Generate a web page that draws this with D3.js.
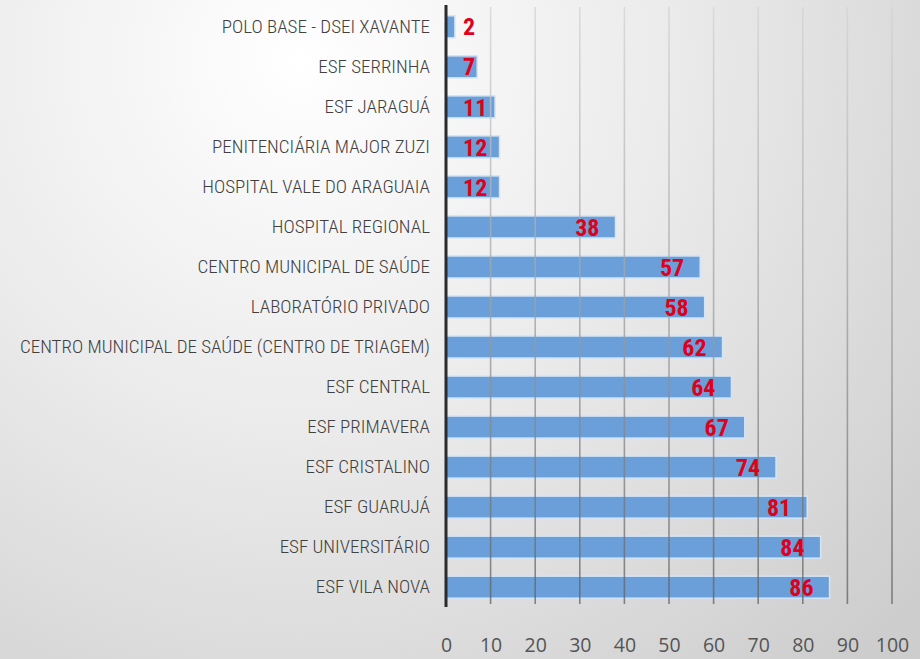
<!DOCTYPE html>
<html>
<head>
<meta charset="utf-8">
<script src="https://cdn.jsdelivr.net/npm/d3@7"></script>
<style>
  html, body { margin: 0; padding: 0; }
  body { width: 920px; height: 659px; overflow: hidden; }
</style>
</head>
<body>
<div id="chart"></div>
<script>
const categories = [
  'POLO BASE - DSEI XAVANTE',
  'ESF SERRINHA',
  'ESF JARAGUÁ',
  'PENITENCIÁRIA MAJOR ZUZI',
  'HOSPITAL VALE DO ARAGUAIA',
  'HOSPITAL REGIONAL',
  'CENTRO MUNICIPAL DE SAÚDE',
  'LABORATÓRIO PRIVADO',
  'CENTRO MUNICIPAL DE SAÚDE (CENTRO DE TRIAGEM)',
  'ESF CENTRAL',
  'ESF PRIMAVERA',
  'ESF CRISTALINO',
  'ESF GUARUJÁ',
  'ESF UNIVERSITÁRIO',
  'ESF VILA NOVA'
];
const values = [2, 7, 11, 12, 12, 38, 57, 58, 62, 64, 67, 74, 81, 84, 86];
const xTicks = [0, 10, 20, 30, 40, 50, 60, 70, 80, 90, 100];

const width = 920, height = 659;
const plotLeft = 446, plotRight = 892, plotTop = 7, plotBottom = 607;
const narrow = '"Roboto Condensed", "Liberation Sans Narrow", sans-serif';

const svg = d3.select('#chart').append('svg')
    .attr('width', width)
    .attr('height', height);

const defs = svg.append('defs');

// background: light in the upper left, grey toward right and bottom
const bg = defs.append('radialGradient')
    .attr('id', 'bg')
    .attr('gradientUnits', 'userSpaceOnUse')
    .attr('cx', 300).attr('cy', 60).attr('r', 820);
bg.append('stop').attr('offset', '0%').attr('stop-color', '#ffffff');
bg.append('stop').attr('offset', '45%').attr('stop-color', '#ebebeb');
bg.append('stop').attr('offset', '100%').attr('stop-color', '#cdcdcd');

// gridlines fade out toward the top
const gg = defs.append('linearGradient')
    .attr('id', 'grid')
    .attr('gradientUnits', 'userSpaceOnUse')
    .attr('x1', 0).attr('y1', plotTop).attr('x2', 0).attr('y2', plotBottom);
gg.append('stop').attr('offset', '0%').attr('stop-color', '#d4d4d4');
gg.append('stop').attr('offset', '50%').attr('stop-color', '#a0a0a0');
gg.append('stop').attr('offset', '100%').attr('stop-color', '#606060');

svg.append('rect')
    .attr('width', width)
    .attr('height', height)
    .attr('fill', 'url(#bg)');

const x = d3.scaleLinear()
    .domain([0, 100])
    .range([plotLeft, plotRight]);

const y = d3.scaleBand()
    .domain(categories)
    .range([plotTop, plotBottom])
    .paddingInner(0.45)
    .paddingOuter(0.22);

// bars
svg.append('g')
    .selectAll('rect')
    .data(values)
    .join('rect')
    .attr('x', x(0))
    .attr('y', (d, i) => y(categories[i]))
    .attr('width', d => x(d) - x(0))
    .attr('height', y.bandwidth())
    .attr('fill', '#6a9fd9')
    .attr('stroke', '#d2e5f7')
    .attr('stroke-width', 1.5);

// gridlines over the bars, semi transparent
svg.append('g')
    .selectAll('line')
    .data(xTicks.slice(1))
    .join('line')
    .attr('x1', d => x(d))
    .attr('x2', d => x(d))
    .attr('y1', plotTop)
    .attr('y2', plotBottom - 3)
    .attr('stroke', 'url(#grid)')
    .attr('stroke-opacity', 0.75)
    .attr('stroke-width', 1.6);

// axis line
svg.append('line')
    .attr('x1', x(0)).attr('x2', x(0))
    .attr('y1', plotTop - 2).attr('y2', plotBottom)
    .attr('stroke', '#2b2b2b')
    .attr('stroke-width', 3);

// x tick labels
const xAxis = svg.append('g')
    .attr('transform', `translate(0,${plotBottom})`)
    .call(d3.axisBottom(x).tickValues(xTicks).tickSize(0).tickPadding(31));
xAxis.select('.domain').remove();
xAxis.selectAll('text')
    .attr('font-family', '"Open Sans", "Liberation Sans", sans-serif')
    .attr('font-size', 19.5)
    .attr('fill', '#555555');

// category labels
const yAxis = svg.append('g')
    .attr('transform', `translate(${x(0) - 16},0)`)
    .call(d3.axisLeft(y).tickSize(0).tickPadding(0));
yAxis.select('.domain').remove();
yAxis.selectAll('text')
    .attr('font-family', narrow)
    .attr('font-weight', 300)
    .attr('font-size', 19)
    .attr('fill', '#404040');

// value labels, inside the bar end; short bars get the label just after the axis
const fits = d => x(d) - 16 >= x(0) + 40;
svg.append('g')
    .selectAll('text')
    .data(values)
    .join('text')
    .attr('x', d => fits(d) ? x(d) - 16 : x(0) + 17)
    .attr('y', (d, i) => y(categories[i]) + y.bandwidth() / 2)
    .attr('dy', '0.36em')
    .attr('text-anchor', d => fits(d) ? 'end' : 'start')
    .attr('font-family', narrow)
    .attr('font-weight', 'bold')
    .attr('font-size', 24)
    .attr('fill', '#e0001b')
    .text(d => d);
</script>
</body>
</html>
